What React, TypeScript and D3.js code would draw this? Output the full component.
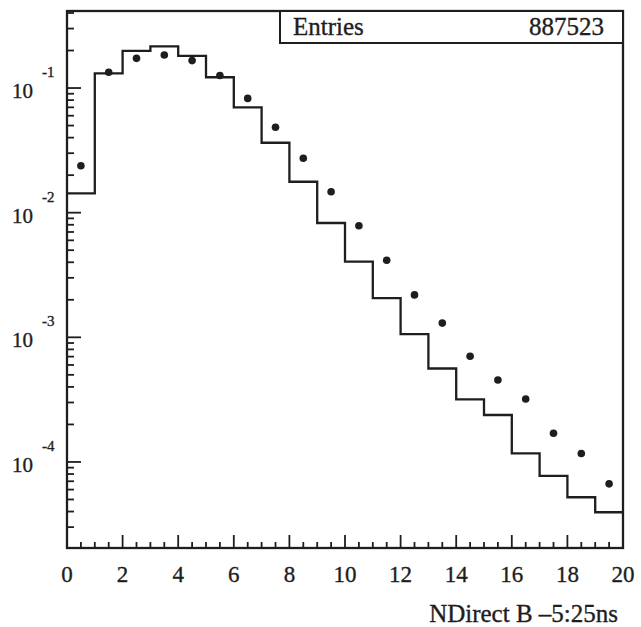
import React from "react";
import * as d3 from "d3";

const binEdges = [0, 1, 2, 3, 4, 5, 6, 7, 8, 9, 10, 11, 12, 13, 14, 15, 16, 17, 18, 19, 20];
const histValues = [
  0.0143, 0.131, 0.199, 0.216, 0.181, 0.122, 0.07, 0.0364, 0.0177, 0.00826,
  0.00405, 0.00206, 0.00106, 0.000562, 0.000318, 0.000238, 0.000117, 0.0000773, 0.0000521, 0.0000395,
];
const pointValues = [
  0.0238, 0.134, 0.173, 0.184, 0.166, 0.126, 0.0826, 0.0484, 0.0273, 0.0147,
  0.00785, 0.00415, 0.00219, 0.0013, 0.000705, 0.000455, 0.00032, 0.00017, 0.000117, 0.0000667,
];
const xTickLabels = [0, 2, 4, 6, 8, 10, 12, 14, 16, 18, 20];
const yDecades = [-1, -2, -3, -4];
const statsLabel = "Entries";
const statsValue = "887523";
const xTitle = "NDirect B \u20135:25ns";

const W = 641;
const H = 627;
const L = 67, R = 623, T = 11, B = 548;
const ink = "#1e1e1e";
const font = "'Liberation Serif', 'DejaVu Serif', serif";
const textStroke = { stroke: ink, strokeWidth: 0.35 };

export default function App() {
  const x = d3.scaleLinear().domain([0, 20]).range([L, R]);
  const y = d3.scaleLog().domain([2.04e-5, 0.415]).range([B, T]);

  const stepPts: [number, number][] = histValues.map((v, i) => [binEdges[i], v]);
  stepPts.push([binEdges[binEdges.length - 1], histValues[histValues.length - 1]]);
  const stepLine = d3
    .line<[number, number]>()
    .x((d) => x(d[0]))
    .y((d) => y(d[1]))
    .curve(d3.curveStepAfter);

  const yTicks: { v: number; major: boolean }[] = [];
  for (let e = -5; e <= -1; e++) {
    for (let m = 1; m <= 9; m++) {
      const v = m * Math.pow(10, e);
      if (v >= 2.04e-5 && v <= 0.415) yTicks.push({ v, major: m === 1 });
    }
  }
  const xTicks: { v: number; major: boolean }[] = [];
  for (let k = 1; k < 40; k++) {
    const v = k * 0.5;
    xTicks.push({ v, major: v % 2 === 0 });
  }

  return (
    <svg
      width={W}
      height={H}
      style={{ position: "absolute", left: 0, top: 0, background: "#fff" }}
      fontFamily={font}
    >
      <rect x={0} y={0} width={W} height={H} fill="#fff" />
      {yTicks.map((t, i) => (
        <line
          key={"yt" + i}
          x1={L}
          x2={L + (t.major ? 14 : 7)}
          y1={y(t.v)}
          y2={y(t.v)}
          stroke={ink}
          strokeWidth={1.8}
        />
      ))}
      {xTicks.map((t, i) => (
        <line
          key={"xt" + i}
          x1={x(t.v)}
          x2={x(t.v)}
          y1={B}
          y2={B - (t.major ? 13 : 6)}
          stroke={ink}
          strokeWidth={1.8}
        />
      ))}
      <path d={stepLine(stepPts) || ""} fill="none" stroke={ink} strokeWidth={2.3} />
      {pointValues.map((v, i) => (
        <circle key={"p" + i} cx={x(i + 0.5)} cy={y(v)} r={3.8} fill={ink} />
      ))}
      <rect x={L} y={T} width={R - L} height={B - T} fill="none" stroke={ink} strokeWidth={2.3} />
      <rect x={280} y={T} width={R - 280} height={43 - T} fill="#fff" stroke={ink} strokeWidth={2} />
      <text x={293} y={35} fontSize={25} fill={ink} {...textStroke}>
        {statsLabel}
      </text>
      <text x={604} y={35} fontSize={25} fill={ink} textAnchor="end" {...textStroke}>
        {statsValue}
      </text>
      {yDecades.map((e) => (
        <g key={"yl" + e}>
          <text x={33} y={y(Math.pow(10, e)) + 10} fontSize={21} fill={ink} textAnchor="end" {...textStroke}>
            10
          </text>
          <text x={42} y={y(Math.pow(10, e)) - 11} fontSize={15} fill={ink} {...textStroke}>
            {String(e)}
          </text>
        </g>
      ))}
      {xTickLabels.map((v) => (
        <text key={"xl" + v} x={x(v)} y={582} fontSize={23} fill={ink} textAnchor="middle" {...textStroke}>
          {v}
        </text>
      ))}
      <text x={618} y={622} fontSize={25} fill={ink} textAnchor="end" {...textStroke}>
        {xTitle}
      </text>
    </svg>
  );
}
